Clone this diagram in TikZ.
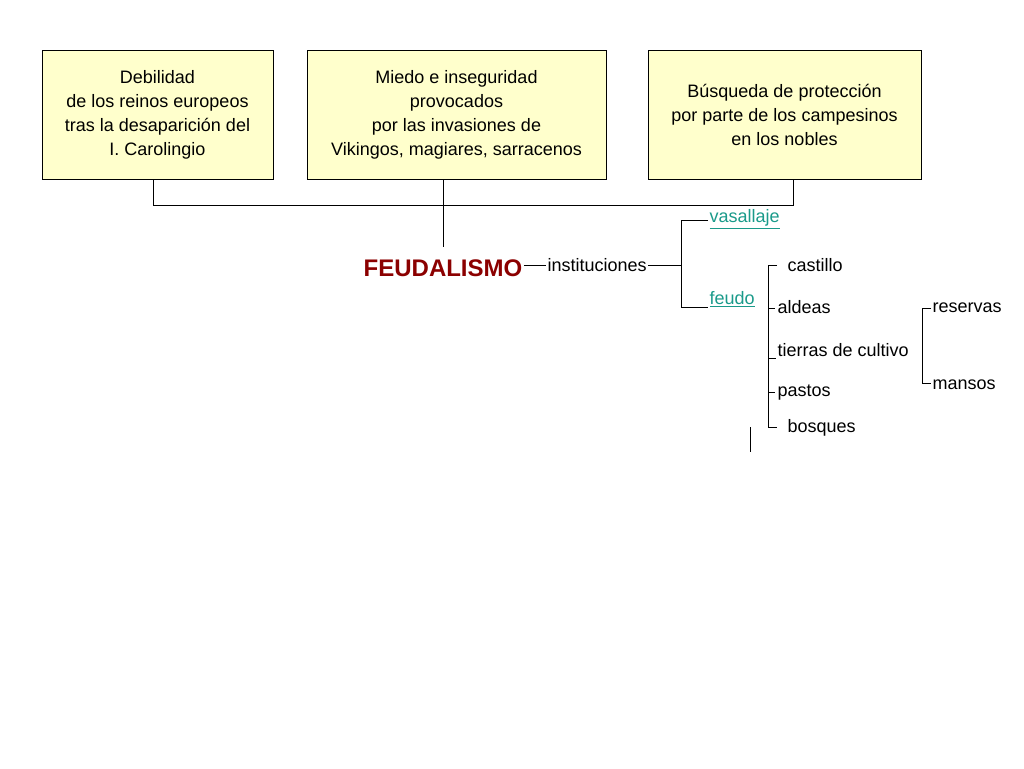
\documentclass[tikz,border=0pt]{standalone}
\usepackage{fontspec}
\setmainfont{Liberation Sans}
\definecolor{boxfill}{HTML}{FFFFCC}
\definecolor{feudred}{HTML}{8B0000}
\definecolor{linkteal}{HTML}{1A9A8A}
\tikzset{
  causebox/.style={draw,fill=boxfill,align=center,font=\fontsize{18}{24}\selectfont,inner sep=0pt},
  item/.style={anchor=west,font=\fontsize{18}{22}\selectfont,inner sep=1pt},
  linktext/.style={item,text=linkteal}
}
\begin{document}
\begin{tikzpicture}[x=1pt,y=-1pt,line width=1pt]
\useasboundingbox (0,0) rectangle (1024,768);
% cause boxes
\node[causebox,minimum width=231pt,minimum height=128pt] (deb) at (157.5,115)
  {Debilidad\\ de los reinos europeos\\tras la desaparición del\\I. Carolingio};
\node[causebox,minimum width=299pt,minimum height=128pt] (mie) at (456.5,115)
  {Miedo e inseguridad\\provocados\\por las invasiones de\\Vikingos, magiares, sarracenos};
\node[causebox,minimum width=273pt,minimum height=128pt] (bus) at (784.5,115)
  {Búsqueda de protección\\por parte de los campesinos\\en los nobles};
\coordinate (d1) at (153,179);
\coordinate (b1) at (793,179);
\coordinate (m1) at (443,179);
\draw (d1)--(153,205)--(793,205)--(b1);
\draw (m1)--(443,247);
% center
\node[font=\bfseries\fontsize{24}{28}\selectfont,text=feudred,inner sep=1pt] (feu) at (443,268) {FEUDALISMO};
\node[item] (ins) at (546,265) {instituciones};
\draw (feu.east|-ins)--(ins.west);
\node[linktext] (vas) at (708,219) {\underline{vasallaje}};
\node[linktext] (feo) at (708,299) {\underline{feudo}};
\draw (ins.east)--(681,265);
\draw (vas.west|-0,220)--(681,220)--(681,307)--(feo.west|-0,307);
% feudo parts
\node[item] (cas) at (786,265) {castillo};
\node[item] (ald) at (776,307) {aldeas};
\node[item] (tie) at (776,350) {tierras de cultivo};
\node[item] (pas) at (776,393) {pastos};
\node[item] (bos) at (786,428) {bosques};
\draw (777,265)--(768,265)--(768,427)--(777,427);
\draw (768,308)--(775,308);
\draw (768,358)--(776,358);
\draw (768,392)--(775,392);
% tierras parts
\node[item] (res) at (931,308) {reservas};
\node[item] (man) at (931,385) {mansos};
\draw (res.west)--(922,308)--(922,383)--(man.west|-0,383);
\draw (750,427)--(750,452);
\end{tikzpicture}
\end{document}
